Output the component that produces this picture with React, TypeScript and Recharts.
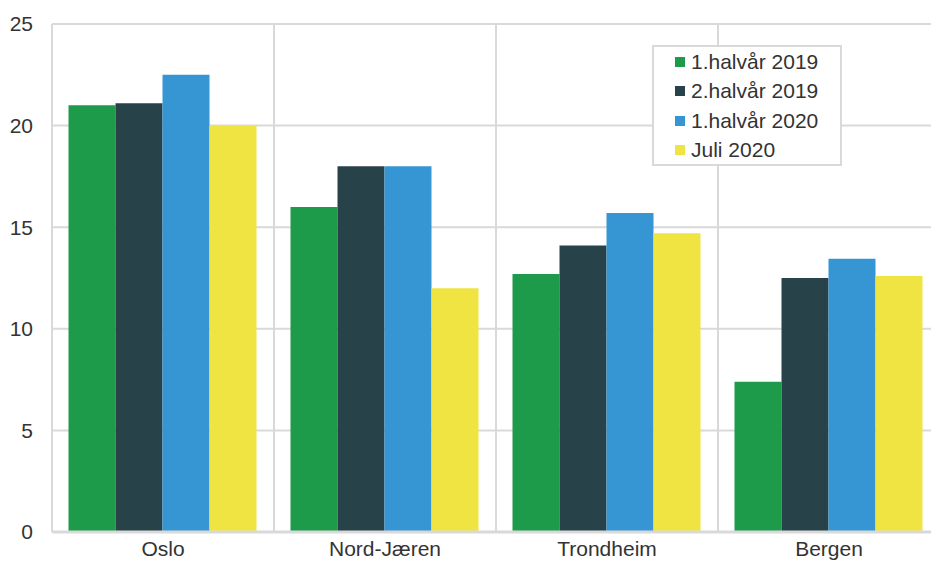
import { Bar, BarChart, CartesianGrid, XAxis, YAxis } from 'recharts'

const regions = ['Oslo', 'Nord-Jæren', 'Trondheim', 'Bergen']
const h1_2019 = [21.0, 16.0, 12.7, 7.4]
const h2_2019 = [21.1, 18.0, 14.1, 12.5]
const h1_2020 = [22.5, 18.0, 15.7, 13.45]
const jul_2020 = [20.0, 12.0, 14.7, 12.6]
const yTicks = [0, 5, 10, 15, 20, 25]

const series = [
  { key: 'h1_2019', name: '1.halvår 2019', color: '#1e9b4a' },
  { key: 'h2_2019', name: '2.halvår 2019', color: '#274249' },
  { key: 'h1_2020', name: '1.halvår 2020', color: '#3596d3' },
  { key: 'jul_2020', name: 'Juli 2020', color: '#f0e443' },
]

const data = regions.map((region, i) => ({
  region,
  h1_2019: h1_2019[i],
  h2_2019: h2_2019[i],
  h1_2020: h1_2020[i],
  jul_2020: jul_2020[i],
}))

const FONT = '"Liberation Sans", Arial, sans-serif'
const GRID = '#d9d9d9'
const TEXT = '#333333'

// legend sits over the plot, drawn as a plain overlay so it takes no room from the chart
function LegendBox() {
  return (
    <div
      style={{
        position: 'absolute',
        left: 652,
        top: 45,
        width: 186,
        height: 117,
        border: `2px solid ${GRID}`,
        background: '#fff',
        boxSizing: 'content-box',
      }}
    >
      {series.map((s) => (
        <div
          key={s.key}
          style={{
            display: 'flex',
            alignItems: 'center',
            height: 29.5,
            paddingLeft: 21,
            fontFamily: FONT,
            fontSize: 21,
            color: TEXT,
          }}
        >
          <span style={{ width: 10, height: 10, background: s.color, marginRight: 6 }} />
          {s.name}
        </div>
      ))}
    </div>
  )
}

export default function App() {
  return (
    <div
      style={{
        position: 'absolute',
        left: 0,
        top: 0,
        width: 931,
        height: 561,
        overflow: 'hidden',
        background: '#fff',
      }}
    >
      <BarChart
        width={950}
        height={561}
        data={data}
        margin={{ top: 24, right: 10, bottom: 0, left: 0 }}
        barCategoryGap={16.5}
        barGap={0}
      >
        <CartesianGrid
          stroke={GRID}
          strokeWidth={2}
          verticalCoordinatesGenerator={({ offset }: any) =>
            [0, 1, 2, 3].map((i) => offset.left + (i * offset.width) / 4)
          }
        />
        <XAxis
          dataKey="region"
          height={29}
          tickLine={false}
          axisLine={{ stroke: GRID, strokeWidth: 3 }}
          tick={{ fill: TEXT, fontSize: 21, fontFamily: FONT }}
          tickMargin={3}
          interval={0}
        />
        <YAxis
          width={52}
          domain={[0, 25]}
          ticks={yTicks}
          tickLine={false}
          axisLine={false}
          tick={{ fill: TEXT, fontSize: 21, fontFamily: FONT }}
          tickMargin={13}
        />
        {series.map((s) => (
          <Bar key={s.key} dataKey={s.key} name={s.name} fill={s.color} isAnimationActive={false} />
        ))}
      </BarChart>
      <LegendBox />
    </div>
  )
}
